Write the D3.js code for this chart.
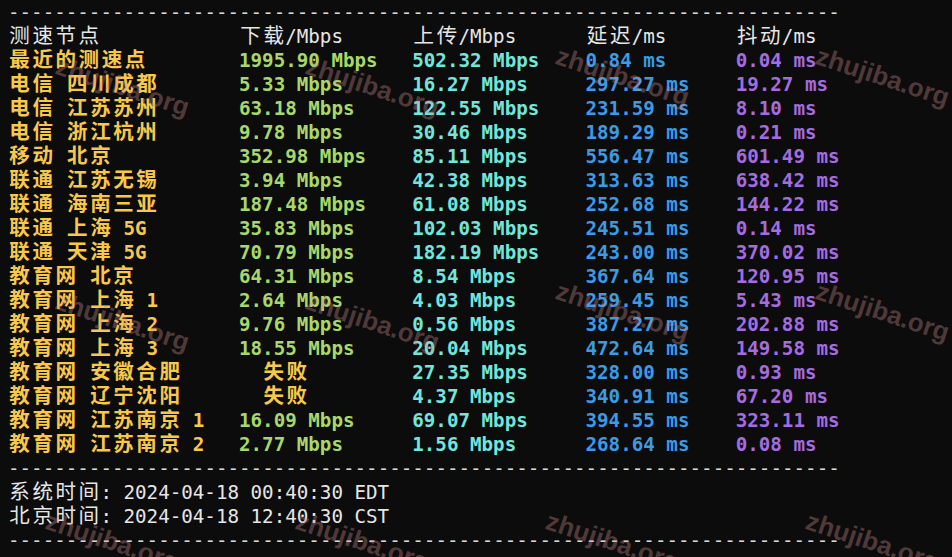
<!DOCTYPE html>
<html><head><meta charset="utf-8">
<script src="https://cdn.jsdelivr.net/npm/d3@7"></script>
<style>body{margin:0;background:#0c0c0c}</style>
</head><body>
<script>
var w = 952
var h = 557

var headers = ['测速节点', '下载/Mbps', '上传/Mbps', '延迟/ms', '抖动/ms']
var nodes = ['最近的测速点', '电信 四川成都', '电信 江苏苏州', '电信 浙江杭州', '移动 北京', '联通 江苏无锡',
  '联通 海南三亚', '联通 上海 5G', '联通 天津 5G', '教育网 北京', '教育网 上海 1', '教育网 上海 2',
  '教育网 上海 3', '教育网 安徽合肥', '教育网 辽宁沈阳', '教育网 江苏南京 1', '教育网 江苏南京 2']
var download = ['1995.90', '5.33', '63.18', '9.78', '352.98', '3.94', '187.48', '35.83', '70.79', '64.31',
  '2.64', '9.76', '18.55', null, null, '16.09', '2.77']
var upload = ['502.32', '16.27', '122.55', '30.46', '85.11', '42.38', '61.08', '102.03', '182.19', '8.54',
  '4.03', '0.56', '20.04', '27.35', '4.37', '69.07', '1.56']
var latency = ['0.84', '297.27', '231.59', '189.29', '556.47', '313.63', '252.68', '245.51', '243.00', '367.64',
  '259.45', '387.27', '472.64', '328.00', '340.91', '394.55', '268.64']
var jitter = ['0.04', '19.27', '8.10', '0.21', '601.49', '638.42', '144.22', '0.14', '370.02', '120.95',
  '5.43', '202.88', '149.58', '0.93', '67.20', '323.11', '0.08']
var footer = ['系统时间: 2024-04-18 00:40:30 EDT', '北京时间: 2024-04-18 12:40:30 CST']
var colCells = [0, 20, 35, 50, 63]
var colColors = ['#f8c84a', '#a8d86a', '#70e6dc', '#3a9be6', '#a46ce0']

var svg = d3.select('body').append('svg').attr('width', w).attr('height', h)
svg.append('rect').attr('width', w).attr('height', h).attr('fill', '#0c0c0c')

// terminal cell grid
var x = d3.scaleLinear().domain([0, 1]).range([8, 8 + 11.55])
var y = d3.scaleLinear().domain([0, 1]).range([36, 60]) // line 0 = header

function isWide (c) { return /[\u3000-\u9fff\uff00-\uffef]/.test(c) }

function termText (str, cell, line, color, bold) {
  var g = svg.append('g')
  var pos = cell
  Array.from(str).forEach(function (c) {
    var wide = isWide(c)
    if (c !== ' ') {
      g.append('text')
        .attr('x', x(pos + (wide ? 1 : 0.5)))
        .attr('y', y(line) + 7)
        .attr('text-anchor', 'middle')
        .attr('font-family', wide ? 'Noto Sans CJK SC' : 'DejaVu Sans Mono')
        .attr('font-size', wide ? '20.5px' : '19.2px')
        .attr('font-weight', bold ? 'bold' : 'normal')
        .attr('fill', color)
        .text(c)
    }
    pos += wide ? 2 : 1
  })
}

function dashes (line) {
  svg.append('text')
    .attr('x', x(0)).attr('y', y(line) + 7)
    .attr('font-family', 'DejaVu Sans Mono').attr('font-size', '19.2px')
    .attr('fill', '#d8d8d8')
    .text(d3.range(72).map(function () { return '-' }).join(''))
}

dashes(-1)
headers.forEach(function (t, i) { termText(t, colCells[i], 0, '#e6e6e6', false) })

nodes.forEach(function (n, i) {
  var line = i + 1
  termText(n, colCells[0], line, colColors[0], true)
  if (download[i] === null) termText('失败', colCells[1] + 2, line, colColors[0], true)
  else termText(download[i] + ' Mbps', colCells[1], line, colColors[1], true)
  termText(upload[i] + ' Mbps', colCells[2], line, colColors[2], true)
  termText(latency[i] + ' ms', colCells[3], line, colColors[3], true)
  termText(jitter[i] + ' ms', colCells[4], line, colColors[4], true)
})

dashes(nodes.length + 1)
footer.forEach(function (t, i) { termText(t, 0, nodes.length + 2 + i, '#e6e6e6', false) })
dashes(nodes.length + 4)

// watermarks
var marks = [[620, 85], [880, 85], [120, 95], [370, 95], [620, 320], [880, 320], [120, 330], [370, 330],
  [110, 550], [360, 550], [610, 550], [870, 550]]
svg.selectAll('text.wm').data(marks).enter().append('text')
  .attr('class', 'wm')
  .attr('transform', function (d) { return 'translate(' + d[0] + ',' + d[1] + ') rotate(18)' })
  .attr('text-anchor', 'middle')
  .attr('font-family', 'Liberation Sans').attr('font-weight', 'bold').attr('font-size', '26px')
  .attr('fill', '#d09090').attr('fill-opacity', 0.35)
  .text('zhujiba.org')
</script>
</body></html>
